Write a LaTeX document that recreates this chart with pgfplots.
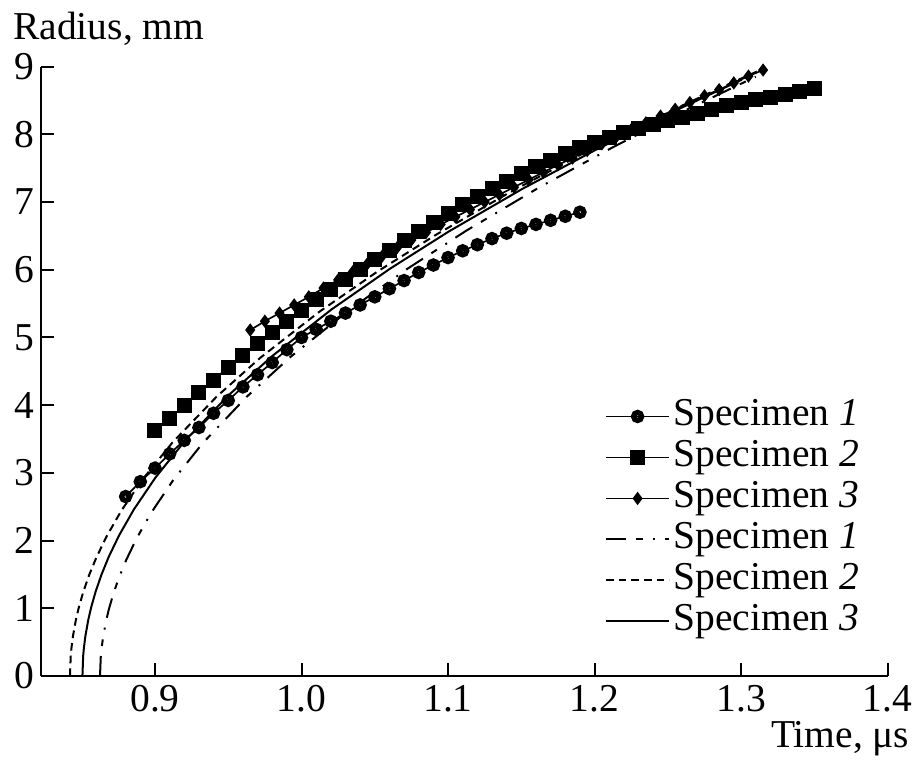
\documentclass[border=0pt]{standalone}
\usepackage{fontspec}
\setmainfont{Liberation Serif}
\usepackage{pgfplots}
\pgfplotsset{compat=1.18}
\newcommand\fsz{\fontsize{11.85}{14}\selectfont}
\begin{document}
\begin{tikzpicture}
\begin{axis}[
 name=ax,
 scale only axis, width=254.1pt, height=182.8pt,
 xmin=0.822, xmax=1.4, ymin=0, ymax=9,
 axis lines*=left,
 axis line style={line width=0.6pt},
 tick align=inside, major tick length=4pt,
 tick style={line width=0.6pt, black},
 xtick={0.9,1.0,1.1,1.2,1.3,1.4},
 ytick={0,1,2,3,4,5,6,7,8,9},
 /pgf/number format/assume math mode=true,
 xticklabel style={/pgf/number format/fixed, /pgf/number format/fixed zerofill, /pgf/number format/precision=1, yshift=-0.6pt, inner ysep=2pt},
 tick label style={font=\fsz},
 yticklabel style={xshift=1.6pt},
 clip=false,
 legend cell align=left,
 legend style={draw=none, fill=none, at={(0.6662,0.4546)}, anchor=north west, font=\fsz,
   row sep=1.8pt, inner sep=0pt, outer sep=0pt,
   nodes={inner xsep=1pt, inner ysep=0pt, text height=8pt, text depth=2.5pt}},
 legend image code/.code={\draw[mark repeat=2,mark phase=2,#1] plot coordinates {(0pt,0pt) (9.5pt,0pt) (19pt,0pt)};},
]
% Specimen 1 (experiment)
\addplot[black, line width=0.5pt, mark=o, mark size=1.2pt, mark options={line width=1.6pt, solid}] coordinates {
(0.88,2.65)(0.89,2.87)(0.90,3.07)(0.91,3.28)(0.92,3.48)(0.93,3.67)(0.94,3.88)(0.95,4.07)
(0.96,4.27)(0.97,4.45)(0.98,4.63)(0.99,4.82)(1.00,5.00)(1.01,5.12)(1.02,5.24)(1.03,5.36)
(1.04,5.48)(1.05,5.60)(1.06,5.72)(1.07,5.84)(1.08,5.96)(1.09,6.07)(1.10,6.18)(1.11,6.28)
(1.12,6.37)(1.13,6.46)(1.14,6.54)(1.15,6.61)(1.16,6.67)(1.17,6.73)(1.18,6.79)(1.19,6.85)};
\addlegendentry{Specimen \textit{1}}
% Specimen 2 (experiment)
\addplot[black, line width=0.5pt, mark=square*, mark size=2pt, mark options={solid}] coordinates {
(0.90,3.62)(0.91,3.81)(0.92,3.99)(0.93,4.18)(0.94,4.37)(0.95,4.56)(0.96,4.74)(0.97,4.91)
(0.98,5.08)(0.99,5.24)(1.00,5.40)(1.01,5.56)(1.02,5.71)(1.03,5.86)(1.04,6.01)(1.05,6.15)
(1.06,6.29)(1.07,6.43)(1.08,6.57)(1.09,6.70)(1.10,6.83)(1.11,6.96)(1.12,7.08)(1.13,7.20)
(1.14,7.31)(1.15,7.42)(1.16,7.52)(1.17,7.62)(1.18,7.71)(1.19,7.80)(1.20,7.88)(1.21,7.95)
(1.22,8.02)(1.23,8.08)(1.24,8.14)(1.25,8.20)(1.26,8.25)(1.27,8.31)(1.28,8.37)(1.29,8.42)
(1.30,8.47)(1.31,8.51)(1.32,8.55)(1.33,8.59)(1.34,8.63)(1.35,8.67)};
\addlegendentry{Specimen \textit{2}}
% Specimen 3 (experiment)
\addplot[black, line width=0.5pt, mark=diamond*, mark size=1.6pt, mark options={solid}] coordinates {
(0.965,5.11)(0.975,5.24)(0.985,5.36)(0.995,5.48)(1.005,5.60)(1.015,5.73)(1.025,5.85)
(1.035,5.97)(1.045,6.09)(1.055,6.20)(1.065,6.32)(1.075,6.44)(1.085,6.55)(1.095,6.67)
(1.105,6.78)(1.115,6.89)(1.125,7.00)(1.135,7.11)(1.145,7.22)(1.155,7.33)(1.165,7.44)
(1.175,7.55)(1.185,7.65)(1.195,7.76)(1.205,7.86)(1.215,7.97)(1.225,8.07)(1.235,8.17)
(1.245,8.27)(1.255,8.37)(1.265,8.47)(1.275,8.57)(1.285,8.66)(1.295,8.76)(1.305,8.86)(1.315,8.95)};
\addlegendentry{Specimen \textit{3}}
% Specimen 1 (model, dash-dot)
\addplot[black, line width=0.6pt, dash pattern=on 6pt off 3pt on 2pt off 3pt on 0.6pt off 3pt] coordinates {
(0.8625,0)(0.8630,0.277)(0.8635,0.394)(0.8645,0.561)(0.8665,0.798)(0.8685,0.982)(0.8715,1.207)
(0.8755,1.456)(0.8805,1.719)(0.8875,2.033)(0.8975,2.413)(0.9125,2.895)(0.9325,3.437)
(0.9625,4.122)(0.9925,4.713)(1.0325,5.404)(1.0725,6.018)(1.1125,6.578)(1.1625,7.220)
(1.2125,7.810)(1.2625,8.360)(1.3100,8.852)};
\addlegendentry{Specimen \textit{1}}
% Specimen 2 (model, dotted)
\addplot[black, line width=0.6pt, dash pattern=on 2.3pt off 1.5pt] coordinates {
(0.842,0)(0.8425,0.292)(0.843,0.412)(0.844,0.583)(0.846,0.825)(0.848,1.010)(0.851,1.237)
(0.855,1.487)(0.860,1.749)(0.867,2.062)(0.877,2.440)(0.892,2.916)(0.912,3.450)
(0.942,4.124)(0.972,4.702)(1.012,5.377)(1.052,5.976)(1.092,6.520)(1.142,7.142)
(1.192,7.715)(1.242,8.247)(1.292,8.747)(1.315,8.968)};
\addlegendentry{Specimen \textit{2}}
% Specimen 3 (model, solid)
\addplot[black, line width=0.6pt] coordinates {
(0.8505,0)(0.8510,0.294)(0.8515,0.415)(0.8525,0.587)(0.8545,0.830)(0.8565,1.017)(0.8595,1.246)
(0.8635,1.497)(0.8685,1.762)(0.8755,2.076)(0.8855,2.456)(0.9005,2.936)(0.9205,3.474)
(0.9505,4.152)(0.9805,4.734)(1.0205,5.414)(1.0605,6.017)(1.1005,6.565)(1.1505,7.192)
(1.2005,7.768)(1.2505,8.304)(1.3005,8.808)};
\addlegendentry{Specimen \textit{3}}
\end{axis}
\node[anchor=base east, font=\fsz, inner sep=0pt] at ([xshift=6.7pt,yshift=-21.6pt]ax.south east) {Time, μs};
\node[anchor=base west, font=\fsz, inner sep=0pt] at ([xshift=-8.4pt,yshift=8pt]ax.north west) {Radius, mm};
\pgfresetboundingbox
\path ([xshift=-12.2pt,yshift=-26.1pt]ax.south west) rectangle ([xshift=8.2pt,yshift=20pt]ax.north east);
\end{tikzpicture}
\end{document}
